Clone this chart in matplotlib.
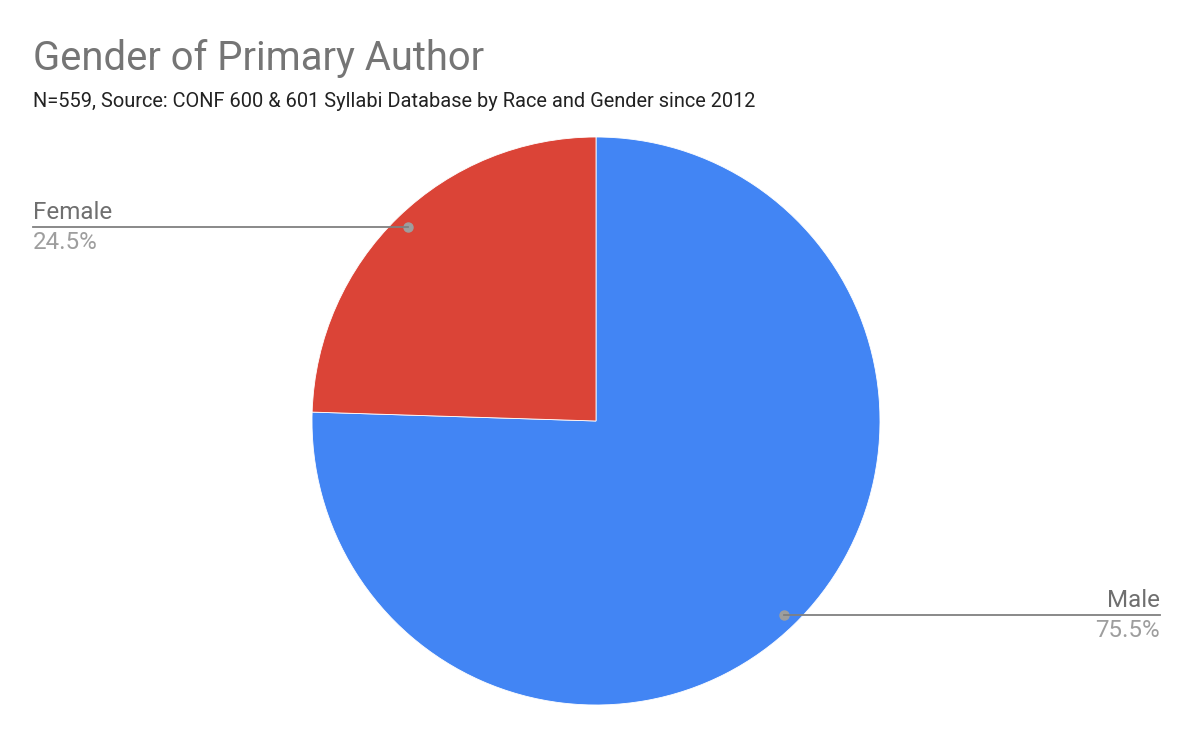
import numpy as np
import matplotlib.pyplot as plt

plt.rcParams['font.family'] = ['Roboto', 'DejaVu Sans']

labels = ["Male", "Female"]
shares = [75.5, 24.5]
colors = ["#4285F4", "#DB4437"]

W, H = 1194, 742
fig = plt.figure(figsize=(W / 100, H / 100), dpi=100)

# pie axes: centre (596, 421), radius 284 px
cx, cy, r = 596, 421, 284
ax = fig.add_axes([(cx - r) / W, 1 - (cy + r) / H, 2 * r / W, 2 * r / H])
wedges, _ = ax.pie(shares, colors=colors, startangle=90, counterclock=False,
                   wedgeprops=dict(linewidth=0.6, edgecolor="white"))
ax.set_xlim(-1, 1)
ax.set_ylim(-1, 1)
ax.set_aspect("equal")
ax.axis("off")

fig.text(33 / W, 1 - 70 / H, "Gender of Primary Author", fontsize=28.8,
         color="#757575", ha="left", va="baseline")
fig.text(33 / W, 1 - 107 / H,
         "N=559, Source: CONF 600 & 601 Syllabi Database by Race and Gender since 2012",
         fontsize=14.4, color="#222222", ha="left", va="baseline")

# leader lines with labels
for w, lab, val in zip(wedges, labels, shares):
    ang = np.deg2rad((w.theta1 + w.theta2) / 2)
    px, py = 0.95 * np.cos(ang), 0.95 * np.sin(ang)
    # dot position in figure px
    dx = cx + px * r
    dy = cy - py * r
    if px < 0:
        x_end = 33
        ha = "left"
    else:
        x_end = 1160
        ha = "right"
    fig.add_artist(plt.Line2D([dx / W, x_end / W], [1 - dy / H, 1 - dy / H],
                              color="#808080", lw=1.3))
    ax.plot(px, py, "o", color="#9e9e9e", ms=6.5, zorder=5)
    fig.text(x_end / W, 1 - (dy - 8) / H, lab, fontsize=17.4, color="#6f6f6f",
             ha=ha, va="baseline")
    fig.text(x_end / W, 1 - (dy + 22) / H, f"{val}%", fontsize=17.4, color="#9e9e9e",
             ha=ha, va="baseline")

fig.savefig("out.png", dpi=100, facecolor="white")
